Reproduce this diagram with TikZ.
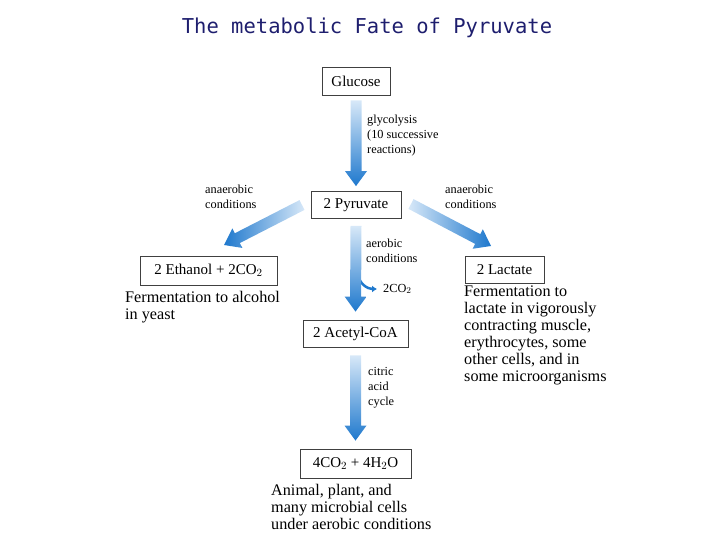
\documentclass[tikz,border=0pt]{standalone}
\usepackage{fontspec}
\setmainfont{Liberation Serif}
\newfontfamily\titlefont{DejaVu Sans Mono}
\usetikzlibrary{calc,arrows.meta}
\definecolor{arrblue}{RGB}{30,120,205}
\definecolor{arrlight}{RGB}{215,232,248}
\definecolor{titleblue}{RGB}{30,30,110}
\tikzset{
  box/.style={draw=black!75,line width=0.8pt,fill=white,inner sep=0pt,font=\fontsize{15}{17}\selectfont},
  small/.style={anchor=north west,inner sep=0pt,align=left,font=\fontsize{12.3}{15}\selectfont},
  big/.style={anchor=north west,inner sep=0pt,align=left,font=\fontsize{16.2}{17}\selectfont},
}
\newcommand\fatarr[3]{%
  \shade[#3] ($(#1)!5.5pt!90:(#2)$) -- ($($(#2)!15pt!(#1)$)!5.5pt!-90:(#1)$) --
    ($($(#2)!15pt!(#1)$)!11pt!-90:(#1)$) -- (#2) --
    ($($(#2)!15pt!(#1)$)!11pt!90:(#1)$) -- ($($(#2)!15pt!(#1)$)!5.5pt!90:(#1)$) --
    ($(#1)!5.5pt!-90:(#2)$) -- cycle;}
\begin{document}
\begin{tikzpicture}[x=1pt,y=-1pt]
\useasboundingbox (0,0) rectangle (720,540);
\node[text=titleblue,font=\titlefont\fontsize{20.5}{22}\selectfont] (title) at (367,28) {The metabolic Fate of Pyruvate};
\node[box,minimum width=68pt,minimum height=28pt] (glc) at (356,81) {Glucose};
\node[box,minimum width=90pt,minimum height=27pt] (pyr) at (356,205) {2 Pyruvate};
\node[box,minimum width=137pt,minimum height=29pt] (eth) at (208.5,270.5) {2 Ethanol + 2CO$_2$};
\node[box,minimum width=79pt,minimum height=27pt] (lac) at (504.5,269.5) {2 Lactate};
\node[box,minimum width=105pt,minimum height=27pt] (aco) at (355.5,333.5) {2 Acetyl-CoA};
\node[box,minimum width=111pt,minimum height=29pt] (fin) at (355.5,463.5) {4CO$_2$ + 4H$_2$O};
% arrow endpoints
\coordinate (a1s) at ($(glc.south)+(0,5)$);
\coordinate (a1e) at ($(pyr.north)+(0,-5)$);
\coordinate (a2s) at ($(pyr.south)+(0,7)$);
\coordinate (a2e) at ($(aco.north)+(0,-8)$);
\coordinate (a3s) at ($(aco.south)+(0,8)$);
\coordinate (a3e) at ($(fin.north)+(0,-8)$);
\coordinate (als) at (302,205);
\coordinate (ale) at (224,245);
\coordinate (ars) at (411,204);
\coordinate (are) at (491,246);
\fatarr{a1s}{a1e}{top color=arrlight,bottom color=arrblue}
% CO2 branch
\coordinate (co2b) at (358,275);
\coordinate (co2t) at (377,289);
\draw[arrblue,line width=2.5pt,-{Latex[length=5pt,width=7pt]}] (co2b) to[out=-80,in=180] (co2t);
\fatarr{a2s}{a2e}{top color=arrlight,bottom color=arrblue}
\fatarr{a3s}{a3e}{top color=arrlight,bottom color=arrblue}
\fatarr{als}{ale}{left color=arrblue,right color=arrlight}
\fatarr{ars}{are}{left color=arrlight,right color=arrblue}
% labels
\node[small] (lg) at (367,115) {glycolysis\\(10 successive\\reactions)};
\node[small] (lal) at (205,185) {anaerobic\\conditions};
\node[small] (lar) at (445,185) {anaerobic\\conditions};
\node[small] (lae) at (366,239) {aerobic\\conditions};
\node[small,anchor=west] (lco) at (383,289) {2CO$_2$};
\node[small] (lca) at (368,367) {citric\\acid\\cycle};
\node[big] (te) at (125,291) {Fermentation to alcohol\\in yeast};
\node[big] (tl) at (464,286) {Fermentation to\\lactate in vigorously\\contracting muscle,\\erythrocytes, some\\other cells, and in\\some microorganisms};
\node[big] (tf) at (271,484) {Animal, plant, and\\many microbial cells\\under aerobic conditions};
\end{tikzpicture}
\end{document}
